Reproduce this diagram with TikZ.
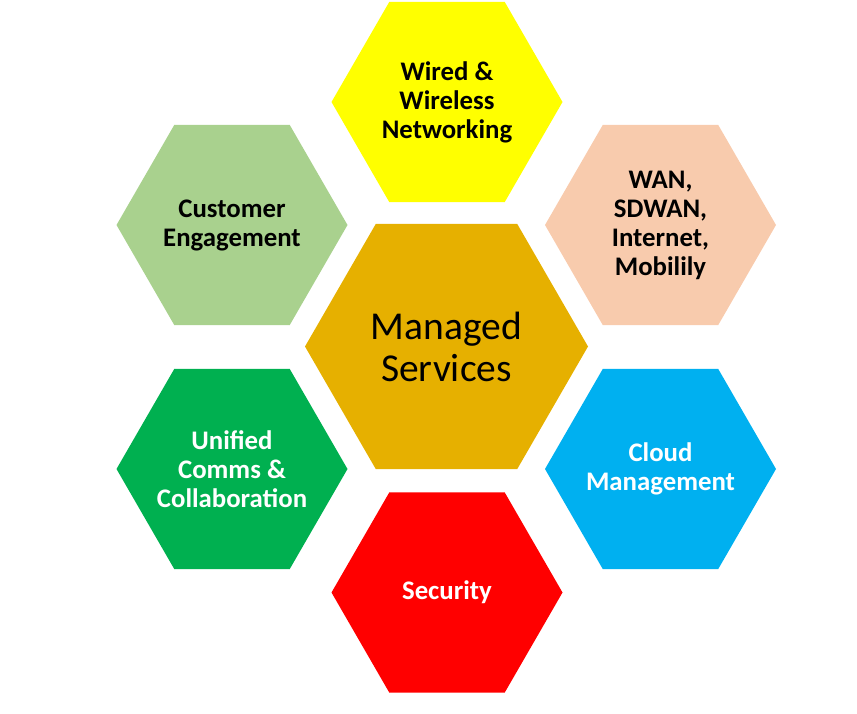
\documentclass[tikz,border=0pt]{standalone}
\usepackage{fontspec}
\setmainfont{Carlito}
\usetikzlibrary{shapes.geometric}
\definecolor{hexgold}{RGB}{230,176,0}
\definecolor{hexyellow}{RGB}{255,255,0}
\definecolor{hexsage}{RGB}{169,209,142}
\definecolor{hexpeach}{RGB}{248,203,173}
\definecolor{hexgreen}{RGB}{0,176,80}
\definecolor{hexblue}{RGB}{0,176,240}
\definecolor{hexred}{RGB}{255,0,0}

\begin{document}
\begin{tikzpicture}
    [x=1pt,y=-1pt,every node/.style={regular polygon,regular polygon sides=6,inner sep=-20pt,minimum size=231pt,align=center,font=\fontsize{26.8}{29}\selectfont\bfseries}]
    \useasboundingbox (0,0) rectangle (857,714);
    \node[fill=hexgold,minimum size=283pt,font=\fontsize{39.5}{42}\selectfont] (nc) at (446.5,346.5) {Managed\\Services};
    \node[fill=hexyellow] (nw) at (447,102) {Wired \&\\Wireless\\Networking};
    \node[fill=hexsage] (ne) at (232,225) {Customer\\Engagement};
    \node[fill=hexpeach] (nn) at (660.5,225) {WAN,\\SDWAN,\\Internet,\\Mobilily};
    \node[fill=hexgreen,text=white] (nu) at (232,469) {Unified\\Comms \&\\Collaboration};
    \node[fill=hexblue,text=white] (nm) at (660.5,469) {Cloud\\Management};
    \node[fill=hexred,text=white] (ns) at (447,592.5) {Security};
  \end{tikzpicture}
\end{document}
